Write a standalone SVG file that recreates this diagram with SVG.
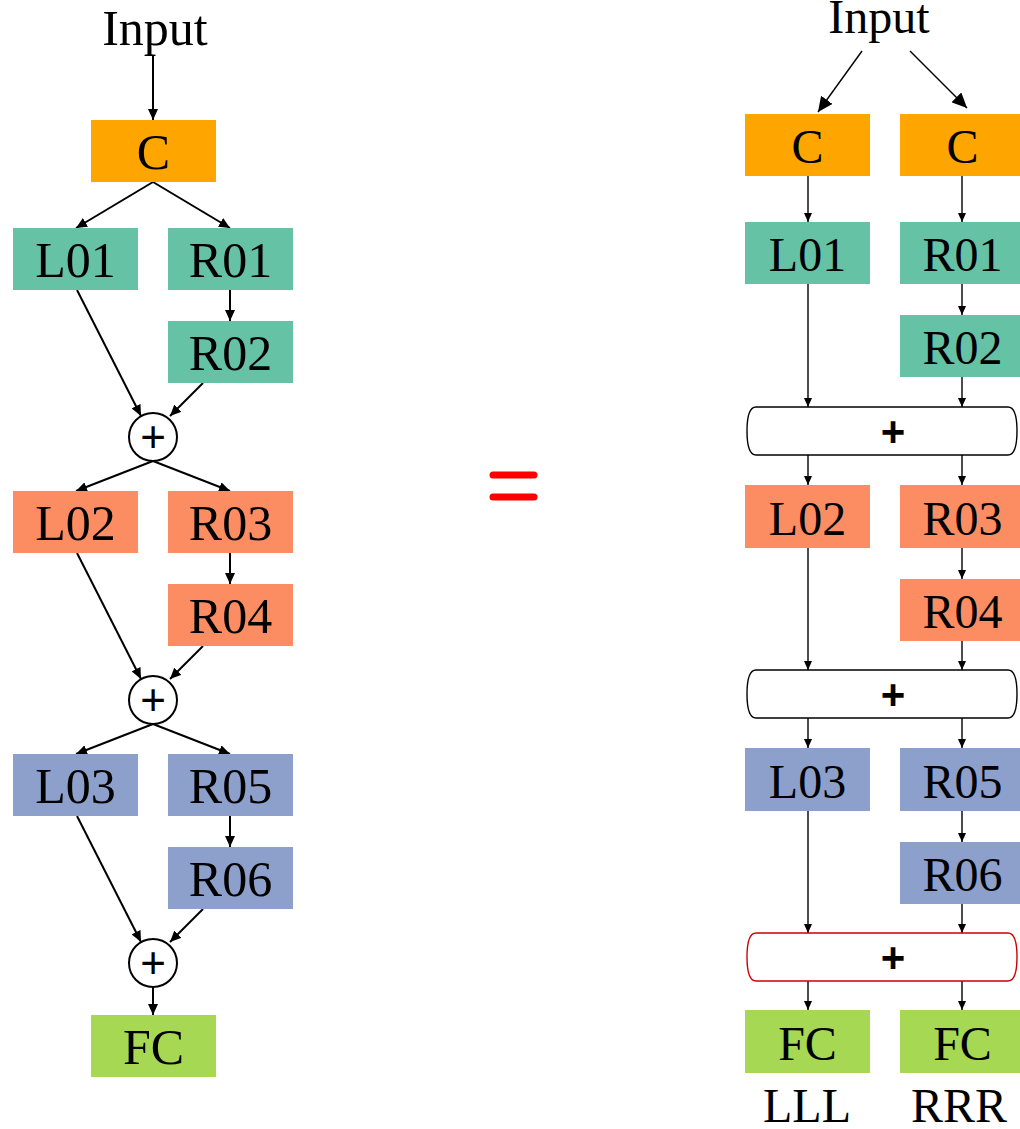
<svg xmlns="http://www.w3.org/2000/svg" width="1020" height="1129" viewBox="0 0 1020 1129">
<style>
.t{font-family:"Liberation Serif","Times New Roman",serif;fill:#000;text-anchor:middle}
.tl{font-size:50px}
.tr{font-size:48px}
.c{fill:#FFA500}.g{fill:#66C2A5}.o{fill:#FC8D62}.b{fill:#8DA0CB}.f{fill:#A6D854}
.cl{stroke:#000;stroke-width:2;fill:none;marker-end:url(#ah)}
.cr{stroke:#000;stroke-width:1.4;fill:none;marker-end:url(#as)}
.ci{stroke:#000;stroke-width:1.4;fill:none;marker-end:url(#ab)}
.circ{fill:#fff;stroke:#000;stroke-width:2}
.bar{fill:#fff;stroke:#000;stroke-width:1.4}
.pc{font-family:"Liberation Sans",Arial,sans-serif;font-size:44px;text-anchor:middle}
.pb{font-family:"Liberation Sans",Arial,sans-serif;font-size:42px;font-weight:bold;text-anchor:middle}
</style>
<defs>
<marker id="ah" markerUnits="userSpaceOnUse" markerWidth="12" markerHeight="10" refX="11" refY="5" orient="auto"><path d="M0,0 L11,5 L0,10 z" fill="#000"/></marker>
<marker id="as" markerUnits="userSpaceOnUse" markerWidth="10" markerHeight="8" refX="9" refY="4" orient="auto"><path d="M0,0 L9,4 L0,8 z" fill="#000"/></marker>
<marker id="ab" markerUnits="userSpaceOnUse" markerWidth="16" markerHeight="14" refX="15" refY="7" orient="auto"><path d="M0,0 L15,7 L0,14 z" fill="#000"/></marker>
</defs>

<g id="connectors">
<line class="cl" x1="153" y1="55" x2="153" y2="120"/>
<line class="cl" x1="153" y1="182" x2="76" y2="228"/>
<line class="cl" x1="153" y1="182" x2="230" y2="228"/>
<line class="cl" x1="230" y1="290" x2="230" y2="321"/>
<line class="cl" x1="77" y1="290" x2="141" y2="416"/>
<line class="cl" x1="203" y1="383" x2="170" y2="416"/>
<line class="cl" x1="153" y1="461" x2="76" y2="491"/>
<line class="cl" x1="153" y1="461" x2="230" y2="491"/>
<line class="cl" x1="230" y1="553" x2="230" y2="584"/>
<line class="cl" x1="77" y1="553" x2="141" y2="679"/>
<line class="cl" x1="203" y1="646" x2="170" y2="679"/>
<line class="cl" x1="153" y1="724" x2="76" y2="754"/>
<line class="cl" x1="153" y1="724" x2="230" y2="754"/>
<line class="cl" x1="230" y1="816" x2="230" y2="847"/>
<line class="cl" x1="77" y1="816" x2="141" y2="942"/>
<line class="cl" x1="203" y1="909" x2="170" y2="942"/>
<line class="cl" x1="153" y1="987" x2="153" y2="1015"/>

<line class="ci" x1="862" y1="51" x2="818" y2="112"/>
<line class="ci" x1="910" y1="51" x2="967" y2="108"/>
<line class="cr" x1="808" y1="176" x2="808" y2="222"/>
<line class="cr" x1="962" y1="176" x2="962" y2="222"/>
<line class="cr" x1="962" y1="284" x2="962" y2="315"/>
<line class="cr" x1="808" y1="284" x2="808" y2="407"/>
<line class="cr" x1="962" y1="377" x2="962" y2="407"/>
<line class="cr" x1="808" y1="455" x2="808" y2="485"/>
<line class="cr" x1="962" y1="455" x2="962" y2="485"/>
<line class="cr" x1="962" y1="548" x2="962" y2="579"/>
<line class="cr" x1="808" y1="548" x2="808" y2="670"/>
<line class="cr" x1="962" y1="641" x2="962" y2="670"/>
<line class="cr" x1="808" y1="718" x2="808" y2="748"/>
<line class="cr" x1="962" y1="718" x2="962" y2="748"/>
<line class="cr" x1="962" y1="811" x2="962" y2="842"/>
<line class="cr" x1="808" y1="811" x2="808" y2="933"/>
<line class="cr" x1="962" y1="904" x2="962" y2="933"/>
<line class="cr" x1="808" y1="981" x2="808" y2="1010"/>
<line class="cr" x1="962" y1="981" x2="962" y2="1010"/>
</g>

<g id="left-input"><text class="t tl" x="155" y="45">Input</text></g>
<g id="left-C"><rect class="c" x="91" y="120" width="125" height="62"/><text class="t tl" x="153.5" y="169">C</text></g>
<g id="left-L01"><rect class="g" x="13" y="228" width="125" height="62"/><text class="t tl" x="75.5" y="277">L01</text></g>
<g id="left-R01"><rect class="g" x="168" y="228" width="125" height="62"/><text class="t tl" x="230.5" y="277">R01</text></g>
<g id="left-R02"><rect class="g" x="168" y="321" width="125" height="62"/><text class="t tl" x="230.5" y="370">R02</text></g>
<g id="left-add1"><circle class="circ" cx="153" cy="437" r="24"/><text class="pc" x="153" y="452">+</text></g>
<g id="left-L02"><rect class="o" x="13" y="491" width="125" height="62"/><text class="t tl" x="75.5" y="540">L02</text></g>
<g id="left-R03"><rect class="o" x="168" y="491" width="125" height="62"/><text class="t tl" x="230.5" y="540">R03</text></g>
<g id="left-R04"><rect class="o" x="168" y="584" width="125" height="62"/><text class="t tl" x="230.5" y="633">R04</text></g>
<g id="left-add2"><circle class="circ" cx="153" cy="700" r="24"/><text class="pc" x="153" y="715">+</text></g>
<g id="left-L03"><rect class="b" x="13" y="754" width="125" height="62"/><text class="t tl" x="75.5" y="803">L03</text></g>
<g id="left-R05"><rect class="b" x="168" y="754" width="125" height="62"/><text class="t tl" x="230.5" y="803">R05</text></g>
<g id="left-R06"><rect class="b" x="168" y="847" width="125" height="62"/><text class="t tl" x="230.5" y="896">R06</text></g>
<g id="left-add3"><circle class="circ" cx="153" cy="963" r="24"/><text class="pc" x="153" y="978">+</text></g>
<g id="left-FC"><rect class="f" x="91" y="1015" width="125" height="62"/><text class="t tl" x="153.5" y="1064">FC</text></g>

<g id="equals">
<line x1="493" y1="475" x2="534" y2="475" stroke="#FF0000" stroke-width="7" stroke-linecap="round"/>
<line x1="493" y1="497" x2="534" y2="497" stroke="#FF0000" stroke-width="7" stroke-linecap="round"/>
</g>

<g id="right-input"><text class="t tr" x="879" y="33">Input</text></g>
<g id="right-CL"><rect class="c" x="745" y="114" width="125" height="62"/><text class="t tr" x="807.5" y="163">C</text></g>
<g id="right-CR"><rect class="c" x="900" y="114" width="125" height="62"/><text class="t tr" x="962.5" y="163">C</text></g>
<g id="right-L01"><rect class="g" x="745" y="222" width="125" height="62"/><text class="t tr" x="807.5" y="271">L01</text></g>
<g id="right-R01"><rect class="g" x="900" y="222" width="125" height="62"/><text class="t tr" x="962.5" y="271">R01</text></g>
<g id="right-R02"><rect class="g" x="900" y="315" width="125" height="62"/><text class="t tr" x="962.5" y="364">R02</text></g>
<g id="right-add1"><path class="bar" d="M756,407 H1008 Q1017,407 1017,431 Q1017,455 1008,455 H756 Q747,455 747,431 Q747,407 756,407 Z"/><text class="pb" x="893" y="446">+</text></g>
<g id="right-L02"><rect class="o" x="745" y="485" width="125" height="63"/><text class="t tr" x="807.5" y="535">L02</text></g>
<g id="right-R03"><rect class="o" x="900" y="485" width="125" height="63"/><text class="t tr" x="962.5" y="535">R03</text></g>
<g id="right-R04"><rect class="o" x="900" y="579" width="125" height="62"/><text class="t tr" x="962.5" y="628">R04</text></g>
<g id="right-add2"><path class="bar" d="M756,670 H1008 Q1017,670 1017,694 Q1017,718 1008,718 H756 Q747,718 747,694 Q747,670 756,670 Z"/><text class="pb" x="893" y="709">+</text></g>
<g id="right-L03"><rect class="b" x="745" y="748" width="125" height="63"/><text class="t tr" x="807.5" y="798">L03</text></g>
<g id="right-R05"><rect class="b" x="900" y="748" width="125" height="63"/><text class="t tr" x="962.5" y="798">R05</text></g>
<g id="right-R06"><rect class="b" x="900" y="842" width="125" height="62"/><text class="t tr" x="962.5" y="891">R06</text></g>
<g id="right-add3"><path class="bar" style="stroke:#CC0000" d="M756,933 H1008 Q1017,933 1017,957 Q1017,981 1008,981 H756 Q747,981 747,957 Q747,933 756,933 Z"/><text class="pb" x="893" y="972">+</text></g>
<g id="right-FCL"><rect class="f" x="745" y="1010" width="125" height="63"/><text class="t tr" x="807.5" y="1060">FC</text></g>
<g id="right-FCR"><rect class="f" x="900" y="1010" width="125" height="63"/><text class="t tr" x="962.5" y="1060">FC</text></g>
<g id="label-LLL"><text class="t tr" x="807" y="1122">LLL</text></g>
<g id="label-RRR"><text class="t tr" x="959" y="1122">RRR</text></g>
</svg>
